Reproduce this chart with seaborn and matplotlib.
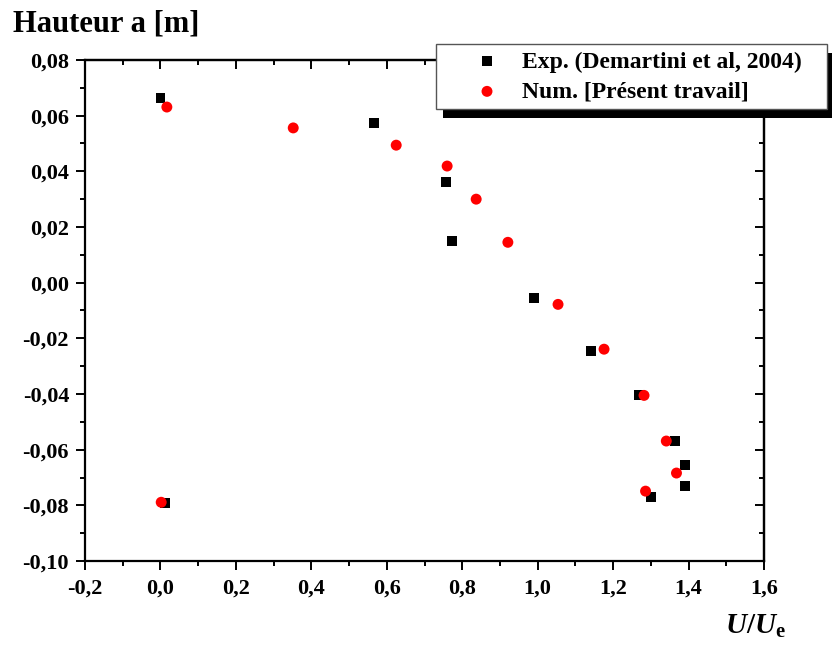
import matplotlib
matplotlib.use("Agg")
import matplotlib.pyplot as plt
import matplotlib.ticker as mticker
from matplotlib.patches import Rectangle
import numpy as np
import pandas as pd
import seaborn as sns

# ---- data ----
exp_x = [0.000, 0.566, 0.757, 0.773, 0.991, 1.142, 1.269, 1.364, 1.390, 1.390, 1.301, 0.012]
exp_y = [0.0664, 0.0574, 0.0362, 0.0151, -0.0056, -0.0246, -0.0405, -0.0569, -0.0656, -0.0731, -0.0770, -0.0792]
num_x = [0.017, 0.352, 0.625, 0.760, 0.837, 0.921, 1.054, 1.176, 1.282, 1.341, 1.368, 1.286, 0.002]
num_y = [0.0631, 0.0556, 0.0494, 0.0419, 0.0300, 0.0145, -0.0078, -0.0239, -0.0405, -0.0569, -0.0684, -0.0749, -0.0789]
exp_label = "Exp. (Demartini et al, 2004)"
num_label = "Num. [Présent travail]"
x_ticks = [-0.2, 0.0, 0.2, 0.4, 0.6, 0.8, 1.0, 1.2, 1.4, 1.6]
y_ticks = [0.08, 0.06, 0.04, 0.02, 0.00, -0.02, -0.04, -0.06, -0.08, -0.10]

df_exp = pd.DataFrame({"x": exp_x, "y": exp_y})
df_num = pd.DataFrame({"x": num_x, "y": num_y})

sns.set_style("ticks")
plt.rcParams["font.family"] = ["Liberation Serif", "DejaVu Serif"]
plt.rcParams["font.weight"] = "bold"
for k in ["text.color", "axes.labelcolor", "xtick.color", "ytick.color", "axes.edgecolor"]:
    plt.rcParams[k] = "black"
plt.rcParams["mathtext.fontset"] = "custom"
plt.rcParams["mathtext.rm"] = "Liberation Serif:bold"
plt.rcParams["mathtext.it"] = "Liberation Serif:bold:italic"
plt.rcParams["mathtext.bf"] = "Liberation Serif:bold"

W, H = 832, 645
fig = plt.figure(figsize=(W/100, H/100), dpi=100)
ax = fig.add_axes([85/W, 1-561/H, (764-85)/W, (561-60)/H])

sns.scatterplot(data=df_exp, x="x", y="y", marker="s", s=50, color="black",
                edgecolor="none", ax=ax, zorder=3, label=exp_label)
sns.scatterplot(data=df_num, x="x", y="y", marker="o", s=62, color="#ff0000",
                edgecolor="none", ax=ax, zorder=4, label=num_label)

ax.set_xlim(-0.2, 1.6)
ax.set_ylim(-0.10, 0.08)
ax.set_xlabel("")
ax.set_ylabel("")

def fmt_x(v, pos):
    return f"{round(v, 1) + 0.0:.1f}".replace(".", ",")

def fmt_y(v, pos):
    return f"{round(v, 2) + 0.0:.2f}".replace(".", ",")

ax.set_xticks(x_ticks)
ax.set_yticks(y_ticks)
ax.xaxis.set_major_formatter(mticker.FuncFormatter(fmt_x))
ax.yaxis.set_major_formatter(mticker.FuncFormatter(fmt_y))
ax.xaxis.set_minor_locator(mticker.MultipleLocator(0.1))
ax.yaxis.set_minor_locator(mticker.MultipleLocator(0.01))

for sp in ax.spines.values():
    sp.set_visible(True)
    sp.set_linewidth(1.6)
    sp.set_color("black")

ax.tick_params(axis="both", which="major", direction="out", length=6.5, width=1.4,
               labelsize=16, colors="black", top=False, right=False)
ax.tick_params(axis="both", which="minor", direction="out", length=3.5, width=1.4,
               top=False, right=False)
ax.tick_params(axis="x", which="major", pad=6)
ax.tick_params(axis="y", which="major", pad=5)
for lab in ax.get_xticklabels() + ax.get_yticklabels():
    lab.set_fontweight("bold")

# inward ticks on top and right
secx = ax.secondary_xaxis("top")
secx.set_xticks(x_ticks)
secx.xaxis.set_minor_locator(mticker.MultipleLocator(0.1))
secx.tick_params(which="major", direction="in", length=6.5, width=1.4, labeltop=False)
secx.tick_params(which="minor", direction="in", length=3.5, width=1.4)
secx.spines["top"].set_linewidth(1.6)
secy = ax.secondary_yaxis("right")
secy.set_yticks(y_ticks)
secy.yaxis.set_minor_locator(mticker.MultipleLocator(0.01))
secy.tick_params(which="major", direction="in", length=6.5, width=1.4, labelright=False)
secy.tick_params(which="minor", direction="in", length=3.5, width=1.4)
secy.spines["right"].set_linewidth(1.6)

# legend: frame + black shadow drawn as figure patches, entries frameless
handles, labels = ax.get_legend_handles_labels()
ax.get_legend().remove()
fs_leg = 17
fs_px = fs_leg * 100 / 72
leg = fig.legend(handles, labels, loc="upper left",
                 bbox_to_anchor=((487 - fs_px) / W, 1 - 51/H), borderaxespad=0,
                 frameon=False,
                 prop={"family": "Liberation Serif", "weight": "bold", "size": fs_leg},
                 handletextpad=0.5, borderpad=0, labelspacing=0.36,
                 handlelength=2.0, markerscale=1.0)
leg.set_zorder(6)

bx0, by0, bx1, by1 = 436, 44, 827, 109
off = 7
shadow = Rectangle(((bx0 + off)/W, 1 - (by1 + off + 2)/H), (bx1 - bx0)/W, (by1 - by0)/H,
                   transform=fig.transFigure, facecolor="black", edgecolor="none", zorder=4)
frame = Rectangle((bx0/W, 1 - by1/H), (bx1 - bx0)/W, (by1 - by0)/H,
                  transform=fig.transFigure, facecolor="white", edgecolor="#555555",
                  linewidth=1.0, zorder=5)
fig.patches.extend([shadow, frame])

fig.text(13/W, 1-9/H, "Hauteur a [m]", ha="left", va="top",
         fontsize=22, fontweight="bold")
fig.text(755/W, 1-634/H, r"$U/U_{\mathrm{e}}$", ha="center", va="baseline",
         fontsize=21)

fig.savefig("out.png", dpi=100)
